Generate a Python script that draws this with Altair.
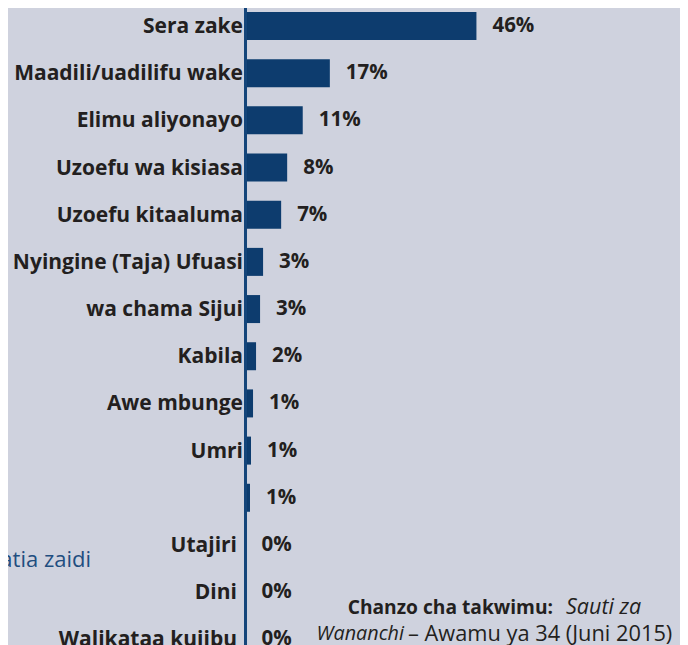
import altair as alt
import pandas as pd

# ---- data ----
categories = [
    "Sera zake",
    "Maadili/uadilifu wake",
    "Elimu aliyonayo",
    "Uzoefu wa kisiasa",
    "Uzoefu kitaaluma",
    "Nyingine (Taja) Ufuasi",
    "wa chama Sijui",
    "Kabila",
    "Awe mbunge",
    "Umri",
    "",
    "Utajiri",
    "Dini",
    "Walikataa kujibu",
]
values = [46, 16.8, 11.4, 8.3, 7.1, 3.5, 2.9, 2.1, 1.5, 1.1, 0.9, 0, 0, 0]
pct_labels = ["46%", "17%", "11%", "8%", "7%", "3%", "3%", "2%", "1%", "1%", "1%", "0%", "0%", "0%"]

df = pd.DataFrame({
    "row": list(range(len(categories))),
    "category": categories,
    "value": values,
    "pct": pct_labels,
})

W, H = 672, 645
BG = "#cfd2de"
BAR = "#0d3c6e"
AXIS = "#14457a"
TXT = "#231f20"
BLUE = "#1f4e80"
FONT = "Open Sans"
FS_CAT = 21
FS_PCT = 20.5

xscale = alt.Scale(domain=[-47.31, 86.55], nice=False, zero=False)
x = alt.X("value:Q", scale=xscale, axis=None)
y = alt.Y("row:O", scale=alt.Scale(range=[4, 645.3], paddingInner=0.4065, paddingOuter=0), axis=None)

base = alt.Chart(df).transform_calculate(zero="0")

bars = base.mark_bar(color=BAR).encode(x=x, x2="zero:Q", y=y)

axis_line = base.transform_filter("datum.row == 0").mark_rule(color=AXIS, strokeWidth=3).encode(
    x=alt.X("zero:Q", scale=xscale, axis=None), y=alt.value(0), y2=alt.value(H)
)

pct = base.mark_text(
    align="left", baseline="middle", dx=16, font=FONT, fontWeight="bold", fontSize=FS_PCT, color=TXT
).encode(x=x, y=y, text="pct:N")

cat_top = base.transform_filter("datum.row <= 10").mark_text(
    align="right", baseline="middle", dy=1, font=FONT, fontWeight="bold", fontSize=FS_CAT, color=TXT
).encode(x=alt.value(235), y=y, text="category:N")

cat_bottom = base.transform_filter("datum.row > 10").mark_text(
    align="right", baseline="middle", dy=1, font=FONT, fontWeight="bold", fontSize=FS_CAT, color=TXT
).encode(x=alt.value(229), y=y, text="category:N")

def note(text, xpos, ypos, align, weight="normal", style="normal", color=TXT, size=20):
    return alt.Chart(pd.DataFrame({"t": [text]})).mark_text(
        align=align, baseline="middle", font=FONT, fontSize=size,
        fontWeight=weight, fontStyle=style, color=color
    ).encode(x=alt.value(xpos), y=alt.value(ypos), text="t:N")

notes = [
    note("atia zaidi", 83, 552, "right", color=BLUE, size=22),
    note("Chanzo cha takwimu:", 545, 600, "right", weight="bold", size=19.2),
    note("Sauti za", 558, 600, "left", style="italic", size=21.5),
    note("Wananchi", 396, 626, "right", style="italic", size=19.8),
    note("– Awamu ya 34 (Juni 2015)", 400, 626, "left", size=21.8),
]

chart = alt.layer(bars, axis_line, pct, cat_top, cat_bottom, *notes).properties(
    width=W, height=H,
    autosize=alt.AutoSizeParams(type="none"),
    padding=0,
    background=BG,
).configure_view(stroke=None)

chart.save("out.html", embed_options={"renderer": "svg", "actions": False})
